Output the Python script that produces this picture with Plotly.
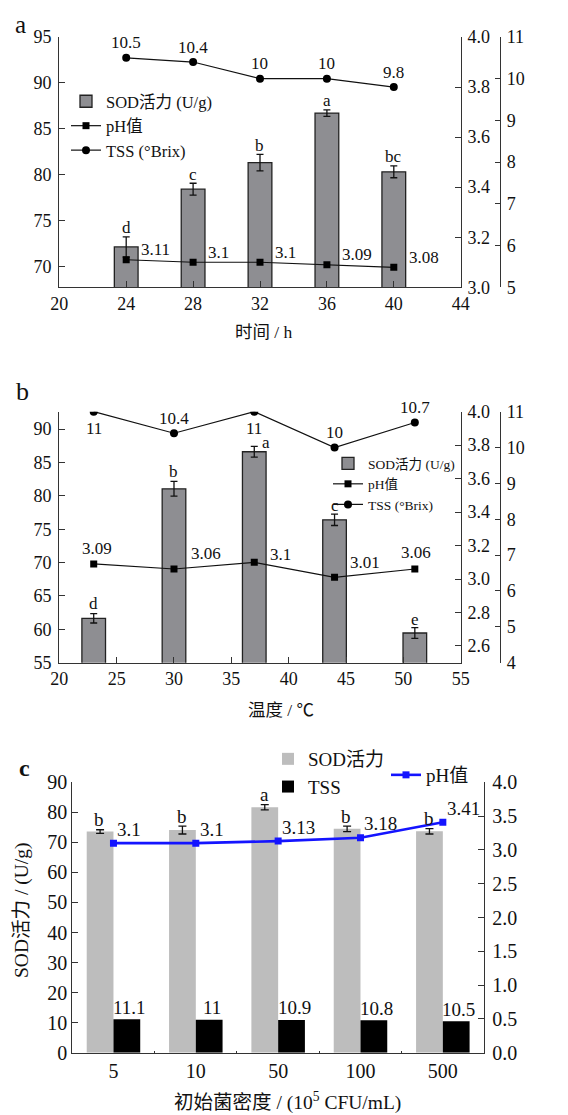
import plotly.graph_objects as go

# ---------------- data ----------------
# Panel a: fermentation time
time_h = [24, 28, 32, 36, 40]
sod_a = [72.1, 78.4, 81.3, 86.7, 80.3]
sod_a_err = [1.1, 0.65, 0.9, 0.35, 0.65]
sod_a_sig = ["d", "c", "b", "a", "bc"]
ph_a = [3.11, 3.10, 3.10, 3.09, 3.08]
tss_a = [10.5, 10.4, 10.0, 10.0, 9.8]

# Panel b: temperature
temp_c = [23, 30, 37, 44, 51]
sod_b = [61.65, 81.05, 86.6, 76.4, 59.45]
sod_b_err = [0.7, 1.1, 0.8, 0.85, 0.8]
sod_b_sig = ["d", "b", "a", "c", "e"]
ph_b = [3.09, 3.06, 3.10, 3.01, 3.06]
tss_b = [11, 10.4, 11, 10, 10.7]

# Panel c: initial inoculum density
density = ["5", "10", "50", "100", "500"]
sod_c = [73.6, 74.1, 81.7, 74.5, 73.7]
sod_c_err = [0.6, 1.3, 0.9, 0.9, 0.9]
sod_c_sig = ["b", "b", "a", "b", "b"]
tss_c = [11.1, 11.0, 10.9, 10.8, 10.5]
ph_c = [3.10, 3.10, 3.13, 3.18, 3.41]

# ---------------- styling ----------------
FONT = "Liberation Serif, Noto Sans CJK SC, serif"
PAGE_OFF = 8            # default page (body) margin in the browser
W, H = 568 - PAGE_OFF, 1115 - PAGE_OFF
INK = "#111111"
LINE = "#333333"


def fx(p):
    return (p - PAGE_OFF) / W


def fy(p):
    return 1 - (p - PAGE_OFF) / H


def fmt(v):
    return f"{v:g}"


fig = go.Figure()

# ---- panel a ----
fig.add_trace(go.Bar(
    x=time_h, y=sod_a, width=1.42, name="SOD活力 (U/g)",
    marker=dict(color="#8e8e92", line=dict(color="#222", width=1.3)),
    error_y=dict(type="data", array=sod_a_err, color=INK, thickness=1.3, width=3.5),
    xaxis="x", yaxis="y", legend="legend"))
fig.add_trace(go.Scatter(
    x=time_h, y=ph_a, mode="lines+markers", name="pH值",
    line=dict(color=INK, width=1.2), marker=dict(symbol="square", size=7, color="#000"),
    xaxis="x", yaxis="y2", legend="legend"))
fig.add_trace(go.Scatter(
    x=time_h, y=tss_a, mode="lines+markers", name="TSS (°Brix)",
    line=dict(color=INK, width=1.2), marker=dict(symbol="circle", size=8, color="#000"),
    xaxis="x", yaxis="y3", legend="legend"))

# ---- panel b ----
fig.add_trace(go.Bar(
    x=temp_c, y=sod_b, width=2.06, name="SOD活力 (U/g)",
    marker=dict(color="#8e8e92", line=dict(color="#222", width=1.3)),
    error_y=dict(type="data", array=sod_b_err, color=INK, thickness=1.3, width=3.5),
    xaxis="x2", yaxis="y4", legend="legend2"))
fig.add_trace(go.Scatter(
    x=temp_c, y=ph_b, mode="lines+markers", name="pH值",
    line=dict(color=INK, width=1.2), marker=dict(symbol="square", size=7, color="#000"),
    xaxis="x2", yaxis="y5", legend="legend2"))
fig.add_trace(go.Scatter(
    x=temp_c, y=tss_b, mode="lines+markers", name="TSS (°Brix)",
    line=dict(color=INK, width=1.2), marker=dict(symbol="circle", size=8, color="#000"),
    xaxis="x2", yaxis="y6", legend="legend2"))

# ---- panel c ----
fig.add_trace(go.Bar(
    x=density, y=sod_c, width=0.325, offset=-0.325, name="SOD活力",
    marker=dict(color="#bdbdbd", line=dict(width=0)),
    error_y=dict(type="data", array=sod_c_err, color=INK, thickness=1.3, width=4),
    xaxis="x3", yaxis="y7", legend="legend3"))
fig.add_trace(go.Bar(
    x=density, y=tss_c, width=0.325, offset=0, name="TSS",
    marker=dict(color="#000000", line=dict(width=0)),
    xaxis="x3", yaxis="y7", legend="legend3"))
fig.add_trace(go.Scatter(
    x=density, y=ph_c, mode="lines+markers", name="pH值",
    line=dict(color="#1414ff", width=2.6), marker=dict(symbol="square", size=7, color="#1414ff"),
    xaxis="x3", yaxis="y8", legend="legend4"))

# ---------------- annotations ----------------
ann = []


def lab(text, x, y, xref, yref, size, xanchor="center", yanchor="middle",
        xshift=0, yshift=0, bold=False):
    t = f"<b>{text}</b>" if bold else text
    return dict(text=t, x=x, y=y, xref=xref, yref=yref, showarrow=False,
                xanchor=xanchor, yanchor=yanchor, xshift=xshift, yshift=yshift,
                font=dict(family=FONT, size=size, color=INK))


# panel a labels
for xv, v in zip(time_h, tss_a):
    ann.append(lab(fmt(v), xv, v, "x", "y3", 17, yshift=15))
for xv, v in zip(time_h, ph_a):
    ann.append(lab(fmt(v), xv, v, "x", "y2", 17, xanchor="left", xshift=13, yshift=10))
for xv, v, e, s in zip(time_h, sod_a, sod_a_err, sod_a_sig):
    ann.append(lab(s, xv, v + e, "x", "y", 17, yshift=9))

# panel b labels (placement styles)
tss_b_place = [-17, 15, -17, 15, 15]
ph_b_place = [("center", 3, 15), ("left", 15, 15), ("left", 14, 8), ("left", 13, 15), ("center", 1, 16)]
sig_b_place = [(0, 10), (0, 10), (12, 4), (0, 9), (0, 8)]
for xv, v, dy in zip(temp_c, tss_b, tss_b_place):
    ann.append(lab(fmt(v), xv, v, "x2", "y6", 17, yshift=dy))
for xv, v, (xa, dx, dy) in zip(temp_c, ph_b, ph_b_place):
    ann.append(lab(fmt(v), xv, v, "x2", "y5", 17, xanchor=xa, xshift=dx, yshift=dy))
for xv, v, e, s, (dx, dy) in zip(temp_c, sod_b, sod_b_err, sod_b_sig, sig_b_place):
    ann.append(lab(s, xv, v + e, "x2", "y4", 17, xshift=dx, yshift=dy))

# panel c labels (x given as category index)
for i, v in enumerate(ph_c):
    ann.append(lab(fmt(v), i, v, "x3", "y8", 19, xanchor="left", xshift=2, yshift=14))
for i, v in enumerate(tss_c):
    ann.append(lab(fmt(v), i, v, "x3", "y7", 19, xshift=16, yshift=12))
for i, (v, e, s) in enumerate(zip(sod_c, sod_c_err, sod_c_sig)):
    ann.append(lab(s, i, v + e, "x3", "y7", 19, xshift=-14, yshift=10))

# axis titles and panel letters
ann.append(lab("时间 / h", fx(264), fy(332), "paper", "paper", 17.5))
ann.append(lab("温度 / ℃", fx(281), fy(710), "paper", "paper", 17.5))
ann.append(lab("初始菌密度 / (10<sup>5</sup> CFU/mL)", fx(287), fy(1101), "paper", "paper", 19.5))
ann.append(dict(text="SOD活力 / (U/g)", x=fx(9), y=fy(911), xref="paper", yref="paper",
                showarrow=False, textangle=-90, xanchor="left", yanchor="middle",
                font=dict(family=FONT, size=19.5, color=INK)))
ann.append(lab("a", fx(20), fy(9), "paper", "paper", 25, yanchor="top"))
ann.append(lab("b", fx(22), fy(391), "paper", "paper", 26))
ann.append(lab("c", fx(24), fy(768), "paper", "paper", 24, bold=True))


# ---------------- axes ----------------
def axis(size=18, **kw):
    d = dict(showgrid=False, zeroline=False, showline=True, linecolor=LINE, linewidth=1.3,
             ticks="inside", ticklen=6, tickcolor=LINE, tickwidth=1.3, automargin=False,
             tickfont=dict(family=FONT, size=size, color=INK))
    d.update(kw)
    return d


xa_dom = [fx(59.3), fx(460.7)]
third_pos = fx(500)

layout_axes = dict(
    xaxis=axis(domain=xa_dom, anchor="y", range=[20, 44], tick0=20, dtick=4),
    yaxis=axis(domain=[fy(287.3), fy(37)], anchor="x", range=[67.7, 95], tick0=0, dtick=5,
               ticklabelstandoff=3),
    yaxis2=axis(overlaying="y", side="right", anchor="x", range=[3, 4], dtick=0.2,
                tickformat=".1f", ticklabelstandoff=2),
    yaxis3=axis(overlaying="y", side="right", anchor="free", position=third_pos,
                range=[5, 11], dtick=1, ticklen=5, ticklabelstandoff=2),
    xaxis2=axis(domain=xa_dom, anchor="y4", range=[20, 55], tick0=20, dtick=5),
    yaxis4=axis(domain=[fy(662.7), fy(411.7)], anchor="x2", range=[55, 92.6], tick0=0, dtick=5,
                ticklabelstandoff=3),
    yaxis5=axis(overlaying="y4", side="right", anchor="x2", range=[2.5, 4.0], tick0=0, dtick=0.2,
                tickformat=".1f", ticklabelstandoff=2),
    yaxis6=axis(overlaying="y4", side="right", anchor="free", position=third_pos,
                range=[4, 11], dtick=1, ticklen=5, ticklabelstandoff=2),
    xaxis3=axis(size=20, domain=[fx(72.3), fx(484)], anchor="y7", type="category",
                range=[-0.5, 4.5], tickson="boundaries", ticklen=2, tickangle=0),
    yaxis7=axis(size=20, domain=[fy(1052.7), fy(782.3)], anchor="x3", range=[0, 90], dtick=10,
                ticklabelstandoff=0),
    yaxis8=axis(size=20, overlaying="y7", side="right", anchor="x3", range=[0, 4], dtick=0.5,
                tickformat=".1f", ticklabelstandoff=3),
)

legend_common = dict(bgcolor="rgba(0,0,0,0)", borderwidth=0, xanchor="left", yanchor="top",
                     tracegroupgap=0)

fig.update_layout(
    width=W, height=H, autosize=False,
    margin=dict(l=0, r=0, t=0, b=0, autoexpand=False),
    paper_bgcolor="white", plot_bgcolor="white",
    barmode="overlay",
    font=dict(family=FONT, size=17, color=INK),
    annotations=ann,
    legend=dict(x=fx(66), y=fy(84), font=dict(family=FONT, size=16.5, color=INK), **legend_common),
    legend2=dict(x=fx(328), y=fy(448), font=dict(family=FONT, size=13.5, color=INK), **legend_common),
    legend3=dict(x=fx(268), y=fy(740), font=dict(family=FONT, size=19, color=INK), **legend_common),
    legend4=dict(x=fx(386), y=fy(756), font=dict(family=FONT, size=19, color=INK), **legend_common),
    **layout_axes,
)

fig.write_html("out.html")
